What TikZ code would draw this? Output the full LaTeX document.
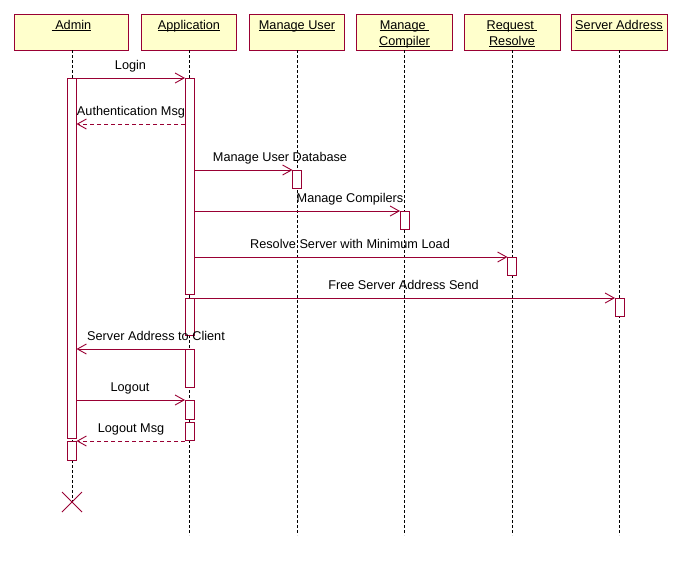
\documentclass[tikz,border=0pt]{standalone}
\usepackage{fontspec}
\setmainfont{Liberation Sans}
\usetikzlibrary{arrows.meta,calc}
\definecolor{umlred}{RGB}{153,0,51}
\definecolor{umlyel}{RGB}{255,255,204}
\newcommand\myul[1]{\setbox0\hbox{#1}\rlap{\rule[-2pt]{\wd0}{0.9pt}}\box0}
\begin{document}
\begin{tikzpicture}[x=1pt,y=-1pt,
  every node/.style={outer sep=0pt},
  objbox/.style={draw=umlred, fill=umlyel, line width=1pt, minimum height=36pt, minimum width=#1, inner sep=0pt},
  lbl/.style={font=\fontsize{12.7}{16}\selectfont, inner sep=0pt, anchor=base, text=black},
  actbar/.style={draw=umlred, fill=white, line width=1pt, minimum width=9pt, minimum height=#1, inner sep=0pt, anchor=north},
  lifeline/.style={black, line width=0.8pt, dash pattern=on 3pt off 2pt},
  msg/.style={umlred, line width=1pt, -{Straight Barb[length=9pt,width=10pt,line width=0.9pt]}},
  reply/.style={msg, dash pattern=on 4pt off 3pt}
]
\useasboundingbox (0,0) rectangle (688,566);
% objects
\node[objbox=114pt] (admin) at (71.5,32) {};
\node[objbox=95pt] (app) at (189,32) {};
\node[objbox=95pt] (muser) at (297,32) {};
\node[objbox=96pt] (mcomp) at (404,32) {};
\node[objbox=96pt] (rres) at (512,32) {};
\node[objbox=96pt] (saddr) at (619,32) {};
\node[lbl] (admint) at (71.5,29) {\myul{\ Admin}};
\node[lbl] (appt) at (189,29) {\myul{Application}};
\node[lbl] (musert) at (297,29) {\myul{Manage User}};
\node[lbl] (mcompt1) at (404.5,29) {\myul{Manage\ }};
\node[lbl] (mcompt2) at (404.5,45) {\myul{Compiler}};
\node[lbl] (rrest1) at (512,29) {\myul{Request\ }};
\node[lbl] (rrest2) at (512,45) {\myul{Resolve}};
\node[lbl] (saddrt) at (619,29) {\myul{Server Address}};
% lifeline ends
\coordinate (adminend) at (72,502);
\coordinate (append) at (189,535);
\coordinate (muserend) at (297,535);
\coordinate (mcompend) at (404,535);
\coordinate (rresend) at (512,535);
\coordinate (saddrend) at (619,535);
\draw[lifeline] (admin.south -| adminend) -- (adminend);
\draw[lifeline] (app.south) -- (append);
\draw[lifeline] (muser.south) -- (muserend);
\draw[lifeline] (mcomp.south) -- (mcompend);
\draw[lifeline] (rres.south) -- (rresend);
\draw[lifeline] (saddr.south) -- (saddrend);
% activation bars
\node[actbar=360pt] (ab1) at (72,78) {};
\node[actbar=19pt] (ab2) at (72,441) {};
\node[actbar=216pt] (pb1) at (189.5,78) {};
\node[actbar=37pt] (pb2) at (189.5,298) {};
\node[actbar=38pt] (pb3) at (189.5,349) {};
\node[actbar=19pt] (pb4) at (189.5,400) {};
\node[actbar=18pt] (pb5) at (189.5,422) {};
\node[actbar=18pt] (ub) at (297,170) {};
\node[actbar=18pt] (cb) at (404.5,211) {};
\node[actbar=18pt] (rb) at (512,257) {};
\node[actbar=18pt] (sb) at (619.5,298) {};
% destruction
\draw[umlred, line width=0.8pt] ($(adminend)+(-10,-10)$) -- ($(adminend)+(10,10)$)
  ($(adminend)+(-10,10)$) -- ($(adminend)+(10,-10)$);
% messages
\coordinate (authy) at (0,124);
\draw[msg] (ab1.north east) -- (pb1.north west);
\draw[reply] (pb1.west |- authy) -- (ab1.east |- authy);
\draw[msg] (pb1.east |- ub.north) -- (ub.north west);
\draw[msg] (pb1.east |- cb.north) -- (cb.north west);
\draw[msg] (pb1.east |- rb.north) -- (rb.north west);
\draw[msg] (pb2.north east) -- (sb.north west);
\draw[msg] (pb3.north west) -- (ab1.east |- pb3.north);
\draw[msg] (ab1.east |- pb4.north) -- (pb4.north west);
\draw[reply] (pb5.west |- ab2.north) -- (ab2.north east);
% message labels
\node[lbl] (l1) at (130.5,69) {Login};
\node[lbl] (l2) at (131,115) {Authentication Msg};
\node[lbl] (l3) at (280,161) {Manage User Database};
\node[lbl] (l4) at (350,202) {Manage Compilers};
\node[lbl] (l5) at (350,248) {Resolve Server with Minimum Load};
\node[lbl] (l6) at (403.5,289) {Free Server Address Send};
\node[lbl] (l7) at (156,340) {Server Address to Client};
\node[lbl] (l8) at (130,391) {Logout};
\node[lbl] (l9) at (131,432) {Logout Msg};
\end{tikzpicture}
\end{document}
